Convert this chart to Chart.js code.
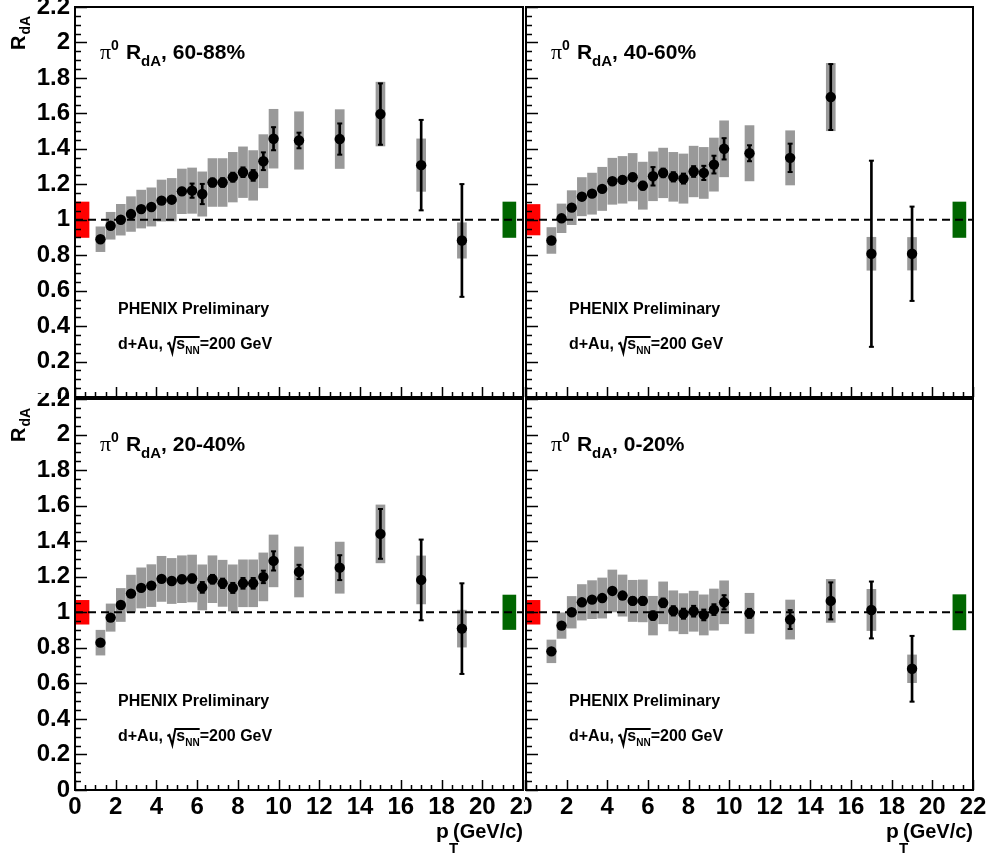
<!DOCTYPE html>
<html>
<head>
<meta charset="utf-8">
<script src="https://cdn.jsdelivr.net/npm/chart.js@4.4.0/dist/chart.umd.min.js"></script>
<style>
  html, body { margin: 0; padding: 0; background: #fff; }
  body { width: 992px; height: 859px; position: relative; overflow: hidden; }
  .pad { position: absolute; overflow: hidden; }
  .pad canvas { position: absolute; }
</style>
</head>
<body>
<div class="pad" id="padTL"><canvas id="cTL"></canvas></div>
<div class="pad" id="padTR"><canvas id="cTR"></canvas></div>
<div class="pad" id="padBL"><canvas id="cBL"></canvas></div>
<div class="pad" id="padBR"><canvas id="cBR"></canvas></div>
<script>
// ---- data ----
const ptBins = [1.25, 1.75, 2.25, 2.75, 3.25, 3.75, 4.25, 4.75, 5.25, 5.75, 6.25, 6.75,
                7.25, 7.75, 8.25, 8.75, 9.25, 9.75, 11, 13, 15, 17, 19];
const xTickValues = [0, 2, 4, 6, 8, 10, 12, 14, 16, 18, 20, 22];
const yTickValues = [0, 0.2, 0.4, 0.6, 0.8, 1, 1.2, 1.4, 1.6, 1.8, 2, 2.2];
const centralities = ["60-88%", "40-60%", "20-40%", "0-20%"];

// 60-88%
const rda6088  = [0.89, 0.966, 1.0, 1.032, 1.06, 1.072, 1.108, 1.113, 1.16, 1.164, 1.145, 1.21,
                  1.21, 1.24, 1.268, 1.25, 1.33, 1.457, 1.447, 1.455, 1.596, 1.308, 0.883];
const sys6088  = [0.07, 0.076, 0.087, 0.098, 0.107, 0.108, 0.116, 0.12, 0.126, 0.128, 0.125, 0.135,
                  0.135, 0.14, 0.143, 0.14, 0.15, 0.166, 0.162, 0.166, 0.18, 0.148, 0.1];
const stat6088 = [0.01, 0.01, 0.01, 0.012, 0.012, 0.014, 0.015, 0.017, 0.02, 0.04, 0.057, 0.022,
                  0.024, 0.025, 0.027, 0.03, 0.05, 0.065, 0.044, 0.088, 0.173, 0.255, 0.318];
// 40-60%
const rda4060  = [0.883, 1.008, 1.068, 1.13, 1.147, 1.174, 1.217, 1.225, 1.24, 1.192, 1.245, 1.264,
                  1.242, 1.232, 1.272, 1.264, 1.311, 1.4, 1.375, 1.349, 1.692, 0.808, 0.808];
const sys4060  = [0.073, 0.081, 0.096, 0.108, 0.116, 0.122, 0.13, 0.132, 0.134, 0.133, 0.138, 0.14,
                  0.138, 0.139, 0.143, 0.144, 0.15, 0.158, 0.156, 0.153, 0.19, 0.093, 0.092];
const stat4060 = [0.01, 0.01, 0.012, 0.012, 0.014, 0.015, 0.016, 0.018, 0.02, 0.022, 0.052, 0.024,
                  0.026, 0.028, 0.03, 0.04, 0.05, 0.06, 0.045, 0.08, 0.186, 0.525, 0.266];
// 20-40%
const rda2040  = [0.829, 0.97, 1.041, 1.105, 1.137, 1.15, 1.188, 1.176, 1.186, 1.19, 1.14, 1.186,
                  1.163, 1.137, 1.163, 1.163, 1.199, 1.289, 1.227, 1.251, 1.441, 1.182, 0.908];
const sys2040  = [0.07, 0.077, 0.093, 0.104, 0.113, 0.118, 0.127, 0.127, 0.132, 0.132, 0.127, 0.132,
                  0.13, 0.13, 0.132, 0.132, 0.135, 0.146, 0.141, 0.144, 0.163, 0.135, 0.104];
const stat2040 = [0.01, 0.01, 0.012, 0.012, 0.014, 0.015, 0.016, 0.018, 0.02, 0.022, 0.03, 0.024,
                  0.026, 0.028, 0.03, 0.03, 0.035, 0.054, 0.04, 0.07, 0.14, 0.227, 0.255];
// 0-20%
const rda0020  = [0.78, 0.925, 1.0, 1.056, 1.071, 1.08, 1.12, 1.094, 1.064, 1.064, 0.981, 1.053,
                  1.008, 0.992, 1.006, 0.985, 1.015, 1.056, 0.994, 0.959, 1.064, 1.013, 0.682];
const sys0020  = [0.064, 0.072, 0.089, 0.1, 0.107, 0.113, 0.118, 0.116, 0.116, 0.118, 0.109, 0.118,
                  0.113, 0.113, 0.113, 0.113, 0.116, 0.121, 0.113, 0.11, 0.121, 0.116, 0.078];
const stat0020 = [0.01, 0.01, 0.012, 0.012, 0.014, 0.015, 0.016, 0.018, 0.02, 0.022, 0.024, 0.024,
                  0.026, 0.028, 0.03, 0.03, 0.03, 0.04, 0.025, 0.053, 0.104, 0.16, 0.185];

// normalisation boxes: red = centrality dependent, green = global
const normErr   = [0.1, 0.086, 0.067, 0.067];
const globalErr = [0.1, 0.1, 0.097, 0.099];

// ---- fonts ----
const SANS = '"Liberation Sans", Arial, Helvetica, sans-serif';
const SERIF = '"Liberation Serif", "Times New Roman", serif';

function drawRuns(ctx, x, y, runs) {
  for (const r of runs) {
    ctx.font = r.font;
    ctx.fillText(r.t, x, y + (r.dy || 0));
    x += ctx.measureText(r.t).width + (r.gap || 0);
  }
  return x;
}

// ROOT style frame, inward ticks and labels
const rootFrame = {
  id: "rootFrame",
  afterDatasetsDraw(chart) {
    const ctx = chart.ctx;
    const { left, top, right, bottom } = chart.chartArea;
    const xs = chart.scales.x, ys = chart.scales.y;
    ctx.save();
    ctx.strokeStyle = "#000";
    ctx.lineWidth = 1.5;
    ctx.beginPath();
    for (let k = 0; k <= 44; k++) {
      const py = Math.round(ys.getPixelForValue(k * 0.05)) + 0.5;
      const len = k % 4 === 0 ? 12 : 6;
      ctx.moveTo(left, py); ctx.lineTo(left + len, py);
    }
    for (let k = 0; k <= 44; k++) {
      const px = Math.round(xs.getPixelForValue(k * 0.5)) + 0.5;
      const len = k % 4 === 0 ? 10 : 5;
      ctx.moveTo(px, bottom); ctx.lineTo(px, bottom - len);
    }
    ctx.stroke();
    ctx.lineWidth = 2;
    ctx.strokeRect(left, top, right - left, bottom - top);
    ctx.restore();
  },
  afterDraw(chart, args, opts) {
    const ctx = chart.ctx;
    const { left, top, right, bottom } = chart.chartArea;
    ctx.save();
    ctx.fillStyle = "#000";
    ctx.strokeStyle = "#000";
    ctx.textBaseline = "alphabetic";
    ctx.textAlign = "left";
    // panel title
    drawRuns(ctx, left + 25, top + 52, [
      { t: "\u03c0", font: `22px ${SERIF}` },
      { t: "0", font: `bold 14px ${SANS}`, dy: -9, gap: 7 },
      { t: "R", font: `bold 21px ${SANS}` },
      { t: "dA", font: `bold 15px ${SANS}`, dy: 7 },
      { t: ", " + opts.label, font: `bold 21px ${SANS}` }
    ]);
    // preliminary tag
    ctx.font = `bold 16px ${SANS}`;
    ctx.fillText("PHENIX Preliminary", left + 43, top + 307);
    const by = top + 342;
    let x = drawRuns(ctx, left + 43, by, [{ t: "d+Au, ", font: `bold 16px ${SANS}` }]);
    ctx.lineWidth = 2;
    ctx.beginPath();
    ctx.moveTo(x, by - 5); ctx.lineTo(x + 2, by - 6); ctx.lineTo(x + 5, by + 4); ctx.lineTo(x + 8, by - 12);
    const sx = x + 9;
    let x2 = drawRuns(ctx, sx, by, [
      { t: "s", font: `bold 16px ${SANS}` },
      { t: "NN", font: `bold 10px ${SANS}`, dy: 5 }
    ]);
    ctx.lineTo(x2, by - 12);
    ctx.stroke();
    drawRuns(ctx, x2, by, [{ t: "=200 GeV", font: `bold 16px ${SANS}` }]);

    if (opts.yTitle) {
      ctx.save();
      ctx.translate(left - 50, top + 43);
      ctx.rotate(-Math.PI / 2);
      drawRuns(ctx, 0, 0, [
        { t: "R", font: `bold 20px ${SANS}`, gap: 1 },
        { t: "dA", font: `bold 14px ${SANS}`, dy: 5 }
      ]);
      ctx.restore();
    }
    if (opts.xTitle) {
      const ty = bottom + 48;
      ctx.font = `bold 20px ${SANS}`;
      ctx.textAlign = "right";
      ctx.fillText("(GeV/c)", right, ty);
      ctx.textAlign = "left";
      ctx.font = `bold 21px ${SANS}`;
      ctx.fillText("p", right - 87, ty);
      ctx.font = `bold 15px ${SANS}`;
      ctx.fillText("T", right - 74, ty + 15);
    }
    ctx.restore();
  }
};

function buildDatasets(rda, sys, stat, nErr, gErr) {
  return [
    {
      type: "scatter", order: 0,
      data: ptBins.map((x, i) => ({ x, y: rda[i] })),
      pointRadius: 5.2, pointBackgroundColor: "#000", pointBorderWidth: 0
    },
    {
      type: "bar", order: 1, grouped: false, barThickness: 2, backgroundColor: "#000",
      data: ptBins.map((x, i) => ({ x, y: [rda[i] - stat[i], rda[i] + stat[i]] }))
    },
    {
      type: "scatter", order: 1, pointStyle: "line", pointRadius: 2.5,
      borderColor: "#000", borderWidth: 2,
      data: ptBins.flatMap((x, i) => [{ x, y: rda[i] - stat[i] }, { x, y: rda[i] + stat[i] }])
    },
    {
      type: "line", order: 2, data: [{ x: 0, y: 1 }, { x: 22, y: 1 }],
      borderColor: "#000", borderWidth: 2, borderDash: [8, 5], pointRadius: 0
    },
    {
      type: "bar", order: 3, grouped: false, barThickness: 13, backgroundColor: "#ff0000",
      data: [{ x: 0.37, y: [1 - nErr, 1 + nErr] }]
    },
    {
      type: "bar", order: 3, grouped: false, barThickness: 13, backgroundColor: "#006600",
      data: [{ x: 21.33, y: [1 - gErr, 1 + gErr] }]
    },
    {
      type: "bar", order: 4, grouped: false, barThickness: 9, backgroundColor: "#999999",
      data: ptBins.map((x, i) => ({ x, y: [rda[i] - sys[i], rda[i] + sys[i]] }))
    }
  ];
}

// plot rectangles (page px) and the clipping pad around each
const panels = [
  { id: "TL", L: 75,  T: 7,   R: 523, B: 397, pad: [0, 0, 525, 399],     rda: rda6088, sys: sys6088, stat: stat6088, k: 0, showX: false, showY: true },
  { id: "TR", L: 526, T: 7,   R: 973, B: 397, pad: [525, 0, 467, 399],   rda: rda4060, sys: sys4060, stat: stat4060, k: 1, showX: false, showY: false },
  { id: "BL", L: 75,  T: 399, R: 523, B: 790, pad: [0, 393, 525, 466],   rda: rda2040, sys: sys2040, stat: stat2040, k: 2, showX: true,  showY: true },
  { id: "BR", L: 526, T: 399, R: 973, B: 790, pad: [525, 393, 467, 466], rda: rda0020, sys: sys0020, stat: stat0020, k: 3, showX: true,  showY: false }
];

panels.forEach((p) => {
  const padEl = document.getElementById("pad" + p.id);
  padEl.style.left = p.pad[0] + "px";
  padEl.style.top = p.pad[1] + "px";
  padEl.style.width = p.pad[2] + "px";
  padEl.style.height = p.pad[3] + "px";

  const cx = p.L - 100, cy = p.T - 50;
  const cw = p.R - p.L + 150, ch = p.B - p.T + 180;
  const canvas = document.getElementById("c" + p.id);
  canvas.width = cw; canvas.height = ch;
  canvas.style.width = cw + "px"; canvas.style.height = ch + "px";
  canvas.style.left = (cx - p.pad[0]) + "px";
  canvas.style.top = (cy - p.pad[1]) + "px";

  new Chart(canvas.getContext("2d"), {
    type: "scatter",
    data: { datasets: buildDatasets(p.rda, p.sys, p.stat, normErr[p.k], globalErr[p.k]) },
    options: {
      responsive: false,
      animation: false,
      devicePixelRatio: 1,
      events: [],
      layout: { padding: { left: 20, top: 50, right: 50, bottom: 70 } },
      plugins: {
        legend: { display: false },
        tooltip: { enabled: false },
        rootFrame: { label: centralities[p.k], yTitle: p.showY, xTitle: p.showX }
      },
      scales: {
        x: {
          type: "linear", min: 0, max: 22, offset: false,
          afterFit: (s) => { s.height = 60; },
          afterBuildTicks: (s) => { s.ticks = xTickValues.map((v) => ({ value: v })); },
          grid: { display: false, drawTicks: false },
          border: { display: false },
          ticks: {
            display: p.showX, autoSkip: false, maxRotation: 0, padding: 3, color: "#000",
            font: { family: SANS, size: 24, weight: "bold" },
            callback: (v) => String(v)
          }
        },
        y: {
          type: "linear", min: 0, max: 2.2,
          afterFit: (s) => { s.width = 80; },
          afterBuildTicks: (s) => { s.ticks = yTickValues.map((v) => ({ value: v })); },
          grid: { display: false, drawTicks: false },
          border: { display: false },
          ticks: {
            display: p.showY, autoSkip: false, padding: 5, color: "#000",
            font: { family: SANS, size: 24, weight: "bold" },
            callback: (v) => String(v)
          }
        }
      }
    },
    plugins: [rootFrame]
  });
});
</script>
</body>
</html>
